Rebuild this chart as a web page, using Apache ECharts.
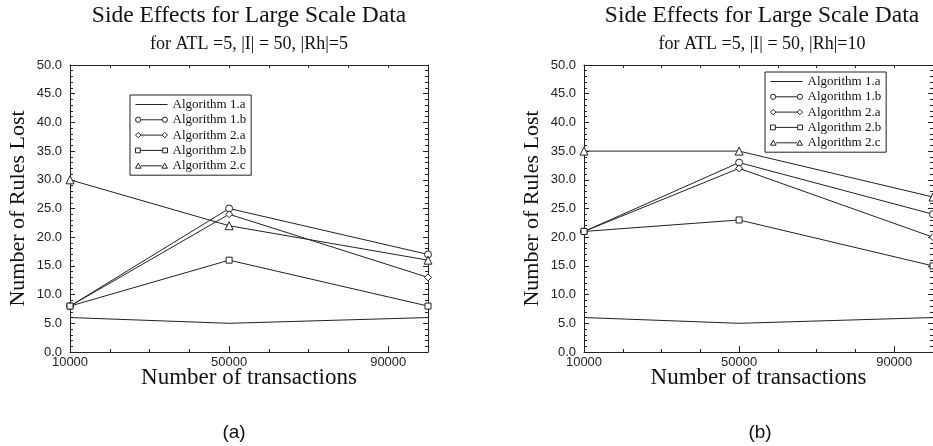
<!DOCTYPE html>
<html>
<head>
<meta charset="utf-8">
<script src="https://cdn.jsdelivr.net/npm/echarts@6/dist/echarts.min.js"></script>
<style>
html, body { margin: 0; padding: 0; background: #fff; }
#main { width: 933px; height: 446px; }
</style>
</head>
<body>
<div id="main"></div>
<script>
// x positions (number of transactions)
var transactions = [10000, 50000, 100000];
var algNames = ['Algorithm 1.a', 'Algorithm 1.b', 'Algorithm 2.a', 'Algorithm 2.b', 'Algorithm 2.c'];
var algSymbols = ['none', 'circle', 'diamond', 'rect', 'triangle'];

// (a) |Rh|=5
var leftAlg1a = [6, 5, 6];
var leftAlg1b = [8, 25, 17];
var leftAlg2a = [8, 24, 13];
var leftAlg2b = [8, 16, 8];
var leftAlg2c = [30, 22, 16];

// (b) |Rh|=10
var rightAlg1a = [6, 5, 6];
var rightAlg1b = [21, 33, 24];
var rightAlg2a = [21, 32, 20];
var rightAlg2b = [21, 23, 15];
var rightAlg2c = [35, 35, 27];

var xLabels = [10000, 50000, 90000];
var yTicks = [0, 50, 5];

var serif = 'Liberation Serif';
var sans = 'Liberation Sans';
var ink = '#222';

// legend samples: marker - line - marker, like the original plot
var legendIcons = [
	'path://M0,3.5 H32 V4.5 H0 Z',
	'path://M0,4 A2.6,2.6 0 1,0 5.2,4 A2.6,2.6 0 1,0 0,4 Z M5.2,4 L26.8,4 M26.8,4 A2.6,2.6 0 1,0 32,4 A2.6,2.6 0 1,0 26.8,4 Z',
	'path://M0,4 L2.7,1.3 L5.4,4 L2.7,6.7 Z M5.4,4 L26.6,4 M26.6,4 L29.3,1.3 L32,4 L29.3,6.7 Z',
	'path://M0,1.6 H4.8 V6.4 H0 Z M4.8,4 L27.2,4 M27.2,1.6 H32 V6.4 H27.2 Z',
	'path://M0,6.4 L2.8,1.4 L5.6,6.4 Z M5.6,4 L26.4,4 M26.4,6.4 L29.2,1.4 L32,6.4 Z'
];

function pairs (vals) {
	var out = [];
	for (var i = 0; i < vals.length; i++) {
		out.push([transactions[i], vals[i]]);
	}
	return out;
}

function init () {
	var cc = echarts.init(document.getElementById('main'));

	var grids = [
		{left: 70, top: 65, width: 358, height: 287},
		{left: 584, top: 65, width: 358, height: 287}
	];

	var xAxes = [];
	var yAxes = [];
	for (var g = 0; g < 2; g++) {
		// bottom axis with labels
		xAxes.push({
			type: 'value', gridIndex: g, position: 'bottom',
			min: 10000, max: 100000, interval: 40000,
			name: 'Number of transactions', nameLocation: 'middle', nameGap: 14,
			nameMoveOverlap: false,
			nameTextStyle: {fontFamily: serif, fontSize: 23, color: '#111'},
			axisLine: {lineStyle: {color: ink, width: 1}},
			axisTick: {inside: true, length: 6, lineStyle: {color: ink}},
			axisLabel: {
				fontFamily: sans, fontSize: 13, color: ink, margin: 4, showMaxLabel: false,
				formatter: function (v) { return xLabels.indexOf(v) >= 0 ? String(v) : ''; }
			},
			splitLine: {show: false}
		});
		// bottom minor ticks
		xAxes.push({
			type: 'value', gridIndex: g, position: 'bottom',
			min: 10000, max: 100000, interval: 10000,
			axisLine: {show: false},
			axisTick: {inside: true, length: 3, lineStyle: {color: ink}},
			axisLabel: {show: false},
			splitLine: {show: false}
		});
		// top frame
		xAxes.push({
			type: 'value', gridIndex: g, position: 'top',
			min: 10000, max: 100000, interval: 10000,
			axisLine: {show: true, lineStyle: {color: ink, width: 1}},
			axisTick: {inside: true, length: 3, lineStyle: {color: ink}},
			axisLabel: {show: false},
			splitLine: {show: false}
		});
		yAxes.push({
			type: 'value', gridIndex: g, position: 'left',
			min: yTicks[0], max: yTicks[1], interval: yTicks[2],
			name: 'Number of Rules Lost', nameLocation: 'middle', nameGap: 41,
			nameMoveOverlap: false,
			nameTextStyle: {fontFamily: serif, fontSize: 22, color: '#111'},
			axisLine: {show: true, lineStyle: {color: ink, width: 1}},
			axisTick: {show: true, inside: true, length: 5, lineStyle: {color: ink}},
			minorTick: {show: true, splitNumber: 5, length: 3, lineStyle: {color: ink}},
			axisLabel: {
				fontFamily: sans, fontSize: 13, color: ink, margin: 8,
				formatter: function (v) { return v.toFixed(1); }
			},
			splitLine: {show: false}
		});
		yAxes.push({
			type: 'value', gridIndex: g, position: 'right',
			min: yTicks[0], max: yTicks[1], interval: yTicks[2],
			axisLine: {show: true, lineStyle: {color: ink, width: 1}},
			axisTick: {show: true, inside: true, length: 5, lineStyle: {color: ink}},
			minorTick: {show: true, splitNumber: 5, length: 3, lineStyle: {color: ink}},
			axisLabel: {show: false},
			splitLine: {show: false}
		});
	}

	var leftData = [leftAlg1a, leftAlg1b, leftAlg2a, leftAlg2b, leftAlg2c];
	var rightData = [rightAlg1a, rightAlg1b, rightAlg2a, rightAlg2b, rightAlg2c];
	var series = [];
	[leftData, rightData].forEach(function (set, g) {
		for (var i = 0; i < set.length; i++) {
			series.push({
				name: algNames[i],
				type: 'line',
				xAxisIndex: g * 3,
				yAxisIndex: g * 2,
				data: pairs(set[i]),
				symbol: algSymbols[i],
				symbolSize: algSymbols[i] === 'triangle' ? 8 : (algSymbols[i] === 'rect' ? 6 : 7),
				showSymbol: algSymbols[i] !== 'none',
				lineStyle: {color: ink, width: 1},
				itemStyle: {color: '#fff', borderColor: ink, borderWidth: 1},
				emphasis: {disabled: true},
				animation: false
			});
		}
	});

	var legendItems = algNames.map(function (n, i) {
		return {
			name: n,
			icon: legendIcons[i],
			itemStyle: i === 0 ?
				{color: ink, borderWidth: 0} :
				{color: '#fff', borderColor: ink, borderWidth: 1}
		};
	});

	var legendBase = {
		orient: 'vertical', align: 'left', data: legendItems,
		itemWidth: 32, itemHeight: 8, itemGap: 2.3,
		padding: [3, 5, 3, 5],
		symbolKeepAspect: true,
		borderColor: ink, borderWidth: 1, backgroundColor: '#fff',
		textStyle: {fontFamily: serif, fontSize: 13, color: '#111', lineHeight: 13},
		selectedMode: false
	};

	var titles = [];
	var centers = [249, 762];
	var subs = ['for ATL =5, |I| = 50, |Rh|=5', 'for ATL =5, |I| = 50, |Rh|=10'];
	var panel = ['(a)', '(b)'];
	var panelX = [234, 760];
	for (var k = 0; k < 2; k++) {
		titles.push({
			text: 'Side Effects for Large Scale Data', left: centers[k], top: 4, textAlign: 'center', padding: 0,
			textStyle: {fontFamily: serif, fontSize: 23.5, fontWeight: 'normal', color: '#111'}
		});
		titles.push({
			text: subs[k], left: centers[k], top: 35, textAlign: 'center', padding: 0,
			textStyle: {fontFamily: serif, fontSize: 18, fontWeight: 'normal', color: '#111'}
		});
		titles.push({
			text: panel[k], left: panelX[k], top: 423, textAlign: 'center', padding: 0,
			textStyle: {fontFamily: sans, fontSize: 19, fontWeight: 'normal', color: '#111'}
		});
	}

	var op = {
		animation: false,
		backgroundColor: '#fff',
		title: titles,
		grid: grids,
		xAxis: xAxes,
		yAxis: yAxes,
		legend: [
			Object.assign({}, legendBase, {left: 130, top: 95}),
			Object.assign({}, legendBase, {left: 765, top: 72})
		],
		series: series
	};

	cc.setOption(op);
}

init();
</script>
</body>
</html>
